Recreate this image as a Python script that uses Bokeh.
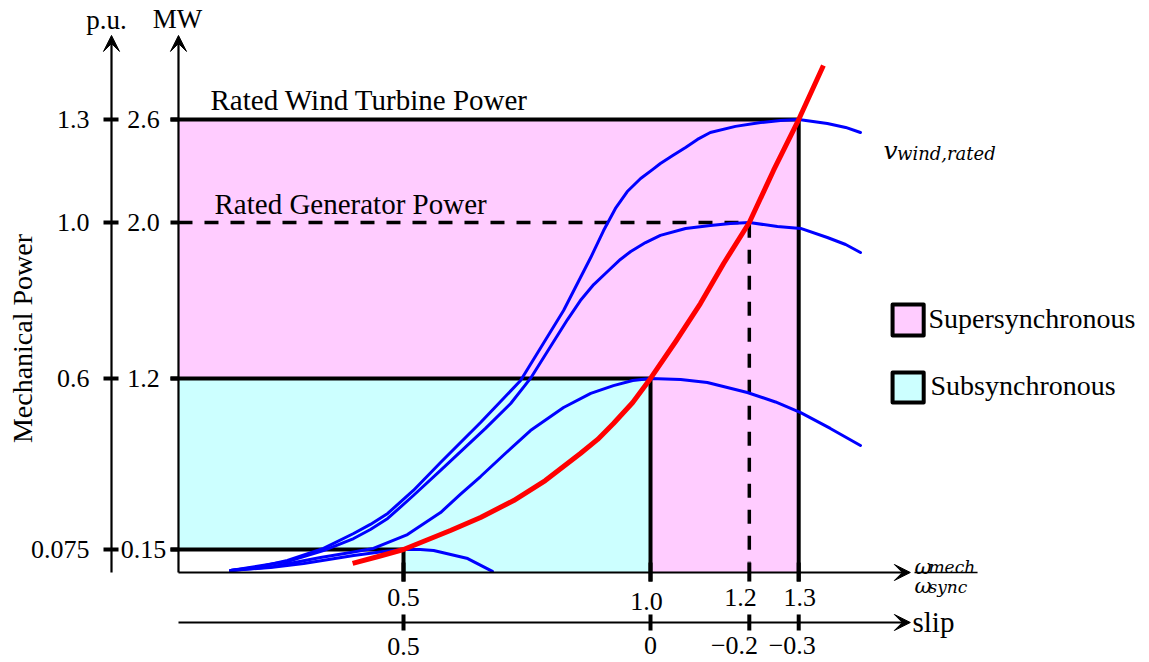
import math
from bokeh.plotting import figure
from bokeh.models import Range1d, Arrow, VeeHead
from bokeh.core.properties import value
from bokeh.embed import file_html
from bokeh.resources import INLINE

# ---------------- data ----------------
# speed marks (omega_mech / omega_sync) and matching slip values
omega_ticks = [0.5, 1.0, 1.2, 1.3]
omega_labels = ["0.5", "1.0", "1.2", "1.3"]
slip_labels = ["0.5", "0", "\u22120.2", "\u22120.3"]
# power levels (schematic drawing heights) with their labels
level_heights = [0.132, 1.114, 2.009, 2.600]
mw_labels = ["0.15", "1.2", "2.0", "2.6"]
pu_labels = ["0.075", "0.6", "1.0", "1.3"]

# turbine power curves for four wind speeds
curve_a_x = [0.150, 0.231, 0.298, 0.399, 0.460, 0.500, 0.534, 0.561, 0.630, 0.680]
curve_a_y = [0.011, 0.029, 0.052, 0.098, 0.121, 0.132, 0.132, 0.126, 0.080, 0.006]

curve_b_x = [0.150, 0.237, 0.332, 0.393, 0.439, 0.508, 0.575, 0.615, 0.656, 0.706, 0.757,
             0.824, 0.879, 0.925, 0.964, 1.000, 1.061, 1.115, 1.196, 1.253, 1.304, 1.364, 1.425]
curve_b_y = [0.011, 0.034, 0.086, 0.115, 0.138, 0.218, 0.344, 0.448, 0.551, 0.683, 0.815,
             0.947, 1.028, 1.073, 1.102, 1.114, 1.108, 1.091, 1.033, 0.979, 0.918, 0.827, 0.729]

curve_c_x = [0.150, 0.265, 0.338, 0.399, 0.433, 0.468, 0.520, 0.575, 0.666, 0.717, 0.757,
             0.804, 0.832, 0.858, 0.885, 0.913, 0.939, 0.960, 0.990, 1.020, 1.071, 1.121,
             1.162, 1.200, 1.257, 1.304, 1.358, 1.395, 1.425]
curve_c_y = [0.011, 0.063, 0.126, 0.195, 0.247, 0.310, 0.442, 0.586, 0.827, 0.970, 1.114,
             1.326, 1.452, 1.561, 1.653, 1.728, 1.797, 1.843, 1.894, 1.935, 1.975, 1.992,
             2.003, 2.009, 1.986, 1.975, 1.923, 1.883, 1.837]

curve_d_x = [0.150, 0.211, 0.265, 0.338, 0.399, 0.433, 0.468, 0.520, 0.575, 0.656, 0.737,
             0.783, 0.824, 0.879, 0.905, 0.929, 0.953, 0.980, 1.004, 1.020, 1.045, 1.071,
             1.095, 1.121, 1.172, 1.223, 1.263, 1.300, 1.358, 1.395, 1.425]
curve_d_y = [0.011, 0.034, 0.069, 0.138, 0.224, 0.276, 0.339, 0.471, 0.631, 0.861, 1.102,
             1.315, 1.504, 1.808, 1.963, 2.090, 2.187, 2.262, 2.313, 2.348, 2.394, 2.440,
             2.486, 2.526, 2.561, 2.583, 2.595, 2.600, 2.578, 2.555, 2.526]

# maximum power tracking curve
mpt_x = [0.397, 0.449, 0.500, 0.545, 0.595, 0.656, 0.723, 0.787, 0.858, 0.893, 0.925,
         0.964, 1.000, 1.051, 1.101, 1.148, 1.200, 1.249, 1.300, 1.350]
mpt_y = [0.052, 0.092, 0.132, 0.184, 0.241, 0.316, 0.413, 0.528, 0.683, 0.764, 0.855,
         0.976, 1.114, 1.326, 1.544, 1.774, 2.009, 2.308, 2.600, 2.910]

# ---------------- layout constants ----------------
X_MW = 0.0445      # MW axis position
X_PU = -0.0911     # p.u. axis position
Y_SLIP = -0.287    # slip axis position
X_END = 1.526      # horizontal arrow tips
Y_TOP = 3.083      # vertical arrow tips
OMEGA_LABEL_X = [0.5, 0.992, 1.182, 1.302]
SLIP_LABEL_X = [0.5, 1.0, 1.170, 1.287]

PINK = "#FFCCFF"
CYAN = "#CCFFFF"
SERIF = value("Liberation Serif")
MATH = value("DejaVu Serif")

p = figure(width=1149, height=662, x_range=Range1d(-0.3158, 2.0101),
           y_range=Range1d(-0.5167, 3.2836), output_backend="svg",
           toolbar_location=None, min_border=0, x_axis_type=None, y_axis_type=None)
p.grid.visible = False
p.outline_line_color = None
p.background_fill_color = "white"


def txt(x, y, s, size, align="left", baseline="middle", font=SERIF, style="normal", angle=0.0):
    p.text(x=x if isinstance(x, list) else [x], y=y if isinstance(y, list) else [y],
           text=s if isinstance(s, list) else [s], text_font=font,
           text_font_size=value(f"{size}px"), text_align=align, text_baseline=baseline,
           text_font_style=style, angle=angle, text_color="black")


# ---- regions ----
p.quad(left=[X_MW], right=[omega_ticks[3]], bottom=[0], top=[level_heights[3]],
       fill_color=PINK, line_color=None)
p.patch(x=[X_MW, omega_ticks[1], omega_ticks[1], omega_ticks[0], omega_ticks[0], X_MW],
        y=[level_heights[1], level_heights[1], 0, 0, level_heights[0], level_heights[0]],
        fill_color=CYAN, line_color=None)
p.quad(left=[X_MW], right=[omega_ticks[0]], bottom=[0], top=[level_heights[0]],
       fill_color="white", line_color=None)

# ---- axes ----
head = dict(size=16, fill_color="black", line_color="black", line_width=1)
for xs, ys, xe, ye in [(X_PU, 0, X_PU, Y_TOP), (X_MW, 0, X_MW, Y_TOP),
                       (X_MW, 0, X_END, 0), (X_MW, Y_SLIP, X_END, Y_SLIP)]:
    p.add_layout(Arrow(end=VeeHead(**head), x_start=xs, y_start=ys, x_end=xe, y_end=ye,
                       line_width=2.2, line_color="black"))

# ---- rated levels ----
TICK_LO = -0.052
for i in (0, 1, 3):
    p.line(x=[0.0283, omega_ticks[i], omega_ticks[i]],
           y=[level_heights[i], level_heights[i], TICK_LO],
           line_width=4, line_color="black", line_join="miter")
p.line(x=[X_MW, omega_ticks[2], omega_ticks[2]], y=[level_heights[2], level_heights[2], 0.057],
       line_width=3.5, line_color="black", line_dash="14 12")

# ticks
p.segment(x0=[0.0283] * 4, y0=level_heights, x1=[X_MW] * 4, y1=level_heights,
          line_width=4, line_color="black")
p.segment(x0=[-0.1073] * 4, y0=level_heights, x1=[-0.0769] * 4, y1=level_heights,
          line_width=4, line_color="black")
p.segment(x0=omega_ticks, y0=[0.057] * 4, x1=omega_ticks, y1=[TICK_LO] * 4,
          line_width=4, line_color="black")
p.segment(x0=omega_ticks, y0=[Y_SLIP + 0.046] * 4, x1=omega_ticks, y1=[Y_SLIP - 0.046] * 4,
          line_width=4, line_color="black")

# ---- curves ----
for cx, cy in [(curve_a_x, curve_a_y), (curve_b_x, curve_b_y),
               (curve_c_x, curve_c_y), (curve_d_x, curve_d_y)]:
    p.line(cx, cy, line_color="#0000FF", line_width=3, line_join="round", line_cap="round")
p.line(mpt_x, mpt_y, line_color="#FF0000", line_width=5, line_join="round")

# ---- tick labels ----
txt([-0.0263] * 4, level_heights, mw_labels, 26, align="center")
txt([-0.1356] * 4, level_heights, pu_labels, 26, align="right")
txt(OMEGA_LABEL_X, [-0.143, -0.166, -0.143, -0.143], omega_labels, 26, align="center")
txt(SLIP_LABEL_X, [-0.425, -0.419, -0.419, -0.419], slip_labels, 26, align="center")

# ---- axis titles ----
txt(-0.1012, 3.169, "p.u.", 27, align="center")
txt(0.0425, 3.175, "MW", 27, align="center")
txt(-0.2713, 1.343, "Mechanical Power", 28, align="center", angle=math.pi / 2)
txt(1.5304, Y_SLIP, "slip", 29)
# fraction omega_mech / omega_sync
txt(1.5344, 0.0344, "\u03c9", 21, baseline="alphabetic", font=MATH, style="italic")
txt(1.5627, 0.0300, "mech", 17, baseline="alphabetic", font=MATH, style="italic")
p.segment(x0=[1.5344], y0=[0], x1=[1.662], y1=[0], line_width=1.3, line_color="black")
txt(1.5344, -0.0804, "\u03c9", 21, baseline="alphabetic", font=MATH, style="italic")
txt(1.5627, -0.0861, "sync", 17, baseline="alphabetic", font=MATH, style="italic")

# ---- annotations ----
txt(0.1093, 2.710, "Rated Wind Turbine Power", 29)
txt(0.1174, 2.113, "Rated Generator Power", 29)
txt(1.4717, 2.4225, "v", 25, baseline="alphabetic", font=MATH, style="italic")
txt(1.499, 2.405, "wind,rated", 18, baseline="alphabetic", font=MATH, style="italic")

# ---- legend ----
p.quad(left=[1.490], right=[1.553], bottom=[1.361], top=[1.538], fill_color=PINK,
       line_color="black", line_width=4, line_join="round")
p.quad(left=[1.490], right=[1.553], bottom=[0.976], top=[1.148], fill_color=CYAN,
       line_color="black", line_width=4, line_join="round")
txt(1.5628, 1.458, "Supersynchronous", 28)
txt(1.5668, 1.0735, "Subsynchronous", 28)

open("out.html", "w").write(file_html(p, INLINE))
